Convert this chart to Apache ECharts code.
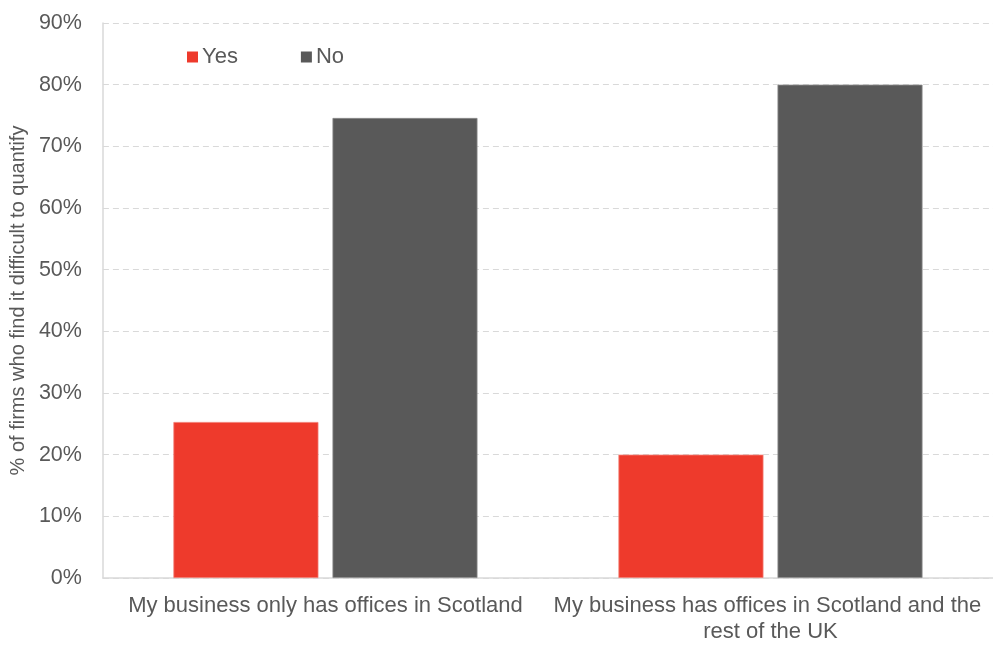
<!DOCTYPE html>
<html>
<head>
<meta charset="utf-8">
<script src="https://cdn.jsdelivr.net/npm/echarts@6/dist/echarts.min.js"></script>
<style>
  html, body { margin: 0; padding: 0; background: #ffffff; }
  #chart { width: 993px; height: 645px; }
</style>
</head>
<body>
<div id="chart"></div>
<script>
// Office footprint groups on the category axis
const categories = [
  'My business only has offices in Scotland',
  'My business has offices in Scotland and the rest of the UK'
];
// Share of firms (%) answering each way
const yesValues = [25.3, 20.0];
const noValues = [74.6, 80.0];
const seriesNames = ['Yes', 'No'];

const textColor = '#595959';
const fontFamily = 'Liberation Sans, Arial, sans-serif';

const chart = echarts.init(document.getElementById('chart'), null, { renderer: 'canvas' });

chart.setOption({
  backgroundColor: '#ffffff',
  animation: false,
  textStyle: { fontFamily: fontFamily, color: textColor },
  legend: {
    data: seriesNames,
    left: 182,
    top: 41,
    itemWidth: 11,
    itemHeight: 11,
    itemGap: 63,
    icon: 'rect',
    itemStyle: { borderWidth: 0 },
    textStyle: { fontSize: 22, color: textColor, fontFamily: fontFamily, padding: [0, 0, 0, -1] }
  },
  grid: {
    left: 101,
    right: 0,
    top: 23,
    bottom: 62,
    containLabel: false
  },
  xAxis: {
    type: 'category',
    data: categories,
    axisLine: { lineStyle: { color: '#d9d9d9', width: 1.5 } },
    axisTick: { show: false },
    axisLabel: {
      color: textColor,
      fontSize: 22,
      fontFamily: fontFamily,
      margin: 15,
      width: 440,
      overflow: 'break',
      lineHeight: 26,
      interval: 0
    }
  },
  yAxis: {
    type: 'value',
    min: 0,
    max: 90,
    interval: 10,
    name: '% of firms who find it difficult to quantify',
    nameLocation: 'middle',
    nameGap: 69,
    nameRotate: 90,
    nameTextStyle: { fontSize: 20, color: textColor, fontFamily: fontFamily },
    axisLine: { show: true, lineStyle: { color: '#d9d9d9', width: 1.5 } },
    axisTick: { show: false },
    axisLabel: {
      formatter: '{value}%',
      fontSize: 21.5,
      color: textColor,
      fontFamily: fontFamily,
      margin: 21
    },
    splitLine: { lineStyle: { color: '#d9d9d9', type: [6, 4], width: 1 } }
  },
  series: [
    {
      name: seriesNames[0],
      type: 'bar',
      data: yesValues,
      barWidth: 145,
      barGap: '9.7%',
      itemStyle: { color: '#ee3a2c', borderColor: '#f27a70', borderWidth: 0.8 }
    },
    {
      name: seriesNames[1],
      type: 'bar',
      data: noValues,
      barWidth: 145,
      itemStyle: { color: '#595959', borderColor: '#8c8c8c', borderWidth: 0.8 }
    }
  ]
});
</script>
</body>
</html>
